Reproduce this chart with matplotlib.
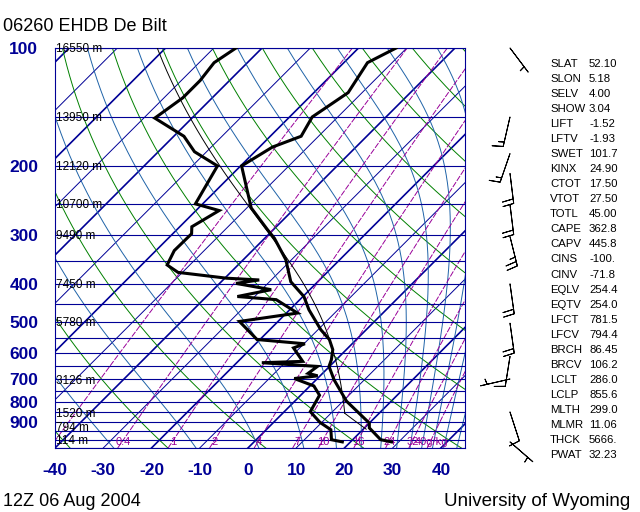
import numpy as np
import matplotlib
matplotlib.use('Agg')
import matplotlib.pyplot as plt
from matplotlib.ticker import NullLocator
from matplotlib.transforms import offset_copy

plt.rcParams['font.family'] = ['Liberation Sans', 'DejaVu Sans']
plt.rcParams['axes.unicode_minus'] = False

# ---- sounding (hPa, degC) ----
pres_t = [1013, 1000, 933, 907, 797, 703, 650, 625, 589, 555, 524, 466, 431, 395,
          347, 306, 291, 256, 200, 179, 168, 150, 130, 109, 100]
temp = [28.5, 25.8, 21.0, 20.0, 10.7, 3.7, -0.1, -1.0, -2.8, -5.6, -9.4, -16.0, -19.8, -25.6,
        -31.2, -38.0, -41.2, -49.1, -59.8, -57.3, -53.6, -55.3, -52.9, -55.1, -52.2]

pres_d = [1013, 1000, 943, 903, 848, 770, 729, 698, 687, 677, 650, 636, 631, 583, 569, 555,
          499, 475, 439, 431, 414, 399, 391, 387, 374, 358, 329, 298, 286, 260, 250, 200,
          184, 168, 151, 134, 121, 109, 100]
dwpt = [18.3, 15.6, 13.4, 9.6, 5.4, 3.9, 0.8, -4.8, -0.5, -3.0, -2.5, -14.8, -6.6, -11.3, -9.8, -20.6,
        -28.0, -17.7, -24.9, -33.6, -28.0, -36.6, -32.5, -39.6, -50.9, -54.7, -56.2, -56.1, -57.5,
        -55.2, -61.5, -64.8, -72.5, -77.9, -87.7, -86.1, -86.1, -86.9, -85.4]

# winds (hPa, deg, knots)
pres_w = [1013, 850, 700, 613, 504, 400, 303, 251, 209, 186, 150, 100]
wdir = [131, 162, 257, 189, 172, 172, 166, 173, 173, 199, 193, 143]
wspd = [5, 10, 5, 10, 20, 20, 25, 20, 20, 15, 15, 5]

# heights of the standard levels
hght_p = [100, 150, 200, 250, 300, 400, 500, 700, 850, 925, 1000]
hght_lbl = ['16550 m', '13950 m', '12120 m', '10700 m', '9490 m', '7450 m',
            '5780 m', '3126 m', '1520 m', '794 m', '114 m']

# parcel (mixed layer) values from the table
parcel_p0 = 940.0
mlth = 299.0
lclp = 855.6
lclt = 286.0

stat_names = ['SLAT', 'SLON', 'SELV', 'SHOW', 'LIFT', 'LFTV', 'SWET', 'KINX', 'CTOT',
              'VTOT', 'TOTL', 'CAPE', 'CAPV', 'CINS', 'CINV', 'EQLV', 'EQTV', 'LFCT',
              'LFCV', 'BRCH', 'BRCV', 'LCLT', 'LCLP', 'MLTH', 'MLMR', 'THCK', 'PWAT']
stat_vals = ['52.10', '5.18', '4.00', '3.04', '-1.52', '-1.93', '101.7', '24.90', '17.50',
             '27.50', '45.00', '362.8', '445.8', '-100.', '-71.8', '254.4', '254.0', '781.5',
             '794.4', '86.45', '106.2', '286.0', '855.6', '299.0', '11.06', '5666.', '32.23']

p_ticks = [100, 200, 300, 400, 500, 600, 700, 800, 900]
t_ticks = [-40, -30, -20, -10, 0, 10, 20, 30, 40]
isobars = list(range(100, 1051, 50))
isotherms = list(range(-140, 50, 10))
dry_theta = list(range(193, 554, 20))
moist_theta = list(range(203, 564, 20))
mix_ratio = [0.1, 0.4, 1, 2, 4, 7, 10, 16, 24, 32, 40]
mix_labels = ['', '0.4', '1', '2', '4', '7', '10', '16', '24', '32', '40g/kg']

navy = '#000096'
green = '#008000'
teal = '#1f63a8'
purple = '#990099'

PBOT, PTOP = 1050.0, 100.0
TLEFT, TRIGHT = -40.0, 45.0

fig = plt.figure(figsize=(6.4, 5.12), dpi=100)
W, H = 410, 400
ax = fig.add_axes([55/640, 64/512, W/640, H/512])
ax.set_yscale('log')
ax.set_ylim(PBOT, PTOP)
ax.set_xlim(TLEFT, TRIGHT)

# skew so that isotherms run at 45 degrees
K = (H / np.log10(PBOT / PTOP)) / (W / (TRIGHT - TLEFT))


def skx(T, p):
    return np.asarray(T, float) + K * np.log10(PBOT / np.asarray(p, float))


Rd, Cp, Lv, eps = 287.04, 1005.7, 2.501e6, 0.622


def sat_mix(T, p):
    es = 6.112 * np.exp(17.67 * (T - 273.15) / (T - 29.65))
    return eps * es / (p - es)


def moist_lapse(T, p):
    rs = sat_mix(T, p)
    return (Rd * T + Lv * rs) / (Cp + Lv * Lv * rs * eps / (Rd * T * T)) / p


def moist_path(T0, plev):
    T = np.array(T0, dtype=float)
    out = [T.copy()]
    for i in range(1, len(plev)):
        p = plev[i-1]
        dp = plev[i] - p
        k1 = moist_lapse(T, p)
        k2 = moist_lapse(T + 0.5*dp*k1, p + 0.5*dp)
        k3 = moist_lapse(T + 0.5*dp*k2, p + 0.5*dp)
        k4 = moist_lapse(T + dp*k3, p + dp)
        T = T + dp * (k1 + 2*k2 + 2*k3 + k4) / 6.0
        out.append(T.copy())
    return np.array(out)


pg = np.logspace(np.log10(PBOT), np.log10(PTOP), 200)

# isobars
for p in isobars:
    ax.axhline(p, color=navy, lw=0.8, zorder=2)

# isotherms
for t0 in isotherms:
    lw = 1.2 if t0 % 20 == 0 else 0.7
    ax.plot(skx([t0, t0], [PBOT, PTOP]), [PBOT, PTOP], color=navy, lw=lw, zorder=1)

# dry adiabats
for th in dry_theta:
    T = th * (pg / 1000.0) ** 0.2857 - 273.15
    ax.plot(skx(T, pg), pg, color=green, lw=0.7, zorder=1)

# moist adiabats, integrated down from the top
pdown = np.logspace(np.log10(PTOP), np.log10(PBOT), 300)
T_top = np.array(moist_theta, float) * (PTOP / 1000.0) ** 0.2857
Tm = moist_path(T_top, pdown) - 273.15
for j in range(Tm.shape[1]):
    ax.plot(skx(Tm[:, j], pdown), pdown, color=teal, lw=0.7, zorder=1)

# mixing ratio lines
mtrans = offset_copy(ax.transData, fig=fig, x=0, y=-2, units='dots')
for w, lbl in zip(mix_ratio, mix_labels):
    e = w * pg / (622.0 + w)
    lne = np.log(e / 6.112)
    Td = 243.5 * lne / (17.67 - lne)
    ax.plot(skx(Td, pg), pg, color=purple, lw=0.7, dashes=(6, 1.5), zorder=1)
    if lbl:
        e0 = w * 1000.0 / (622.0 + w)
        l0 = np.log(e0 / 6.112)
        x0 = skx(243.5 * l0 / (17.67 - l0), 1000.0)
        ax.text(x0, 1000.0, lbl, color=purple, fontsize=8, ha='center', va='center',
                transform=mtrans, zorder=3)

# parcel path
p_dry = np.linspace(parcel_p0, lclp, 20)
T_dry = mlth * (p_dry / 1000.0) ** 0.2857 - 273.15
p_up = np.logspace(np.log10(lclp), np.log10(PTOP), 300)
T_up = moist_path(lclt, p_up) - 273.15
ax.plot(skx(T_dry, p_dry), p_dry, color='k', lw=0.7, zorder=4)
ax.plot(skx(T_up, p_up), p_up, color='k', lw=0.7, zorder=4)

# sounding
ax.plot(skx(temp, pres_t), pres_t, color='k', lw=2.2, zorder=5, solid_joinstyle='miter')
ax.plot(skx(dwpt, pres_d), pres_d, color='k', lw=2.2, zorder=5, solid_joinstyle='miter')

# heights
htrans = offset_copy(ax.get_yaxis_transform(), fig=fig, x=1, y=-4.5, units='dots')
for p, s in zip(hght_p, hght_lbl):
    ax.text(0.0, p, s, fontsize=8.5, color='k', ha='left', va='baseline',
            transform=htrans, zorder=6)

# axes styling
ax.yaxis.set_minor_locator(NullLocator())
ax.set_yticks(p_ticks)
ax.set_yticklabels([str(p) for p in p_ticks])
ax.set_xticks(t_ticks)
ax.set_xticklabels([str(t) for t in t_ticks])
ax.tick_params(axis='both', length=0, labelsize=12.5, labelcolor=navy)
ax.tick_params(axis='y', pad=12)
ax.tick_params(axis='x', pad=11)
for lbl in ax.get_xticklabels() + ax.get_yticklabels():
    lbl.set_fontweight('bold')
for sp in ax.spines.values():
    sp.set_color(navy)
    sp.set_linewidth(0.8)

# wind barbs
axw = fig.add_axes([480/640, 64/512, 60/640, H/512])
axw.set_yscale('log')
axw.set_ylim(PBOT, PTOP)
axw.set_xlim(-1, 1)
axw.axis('off')
rad = np.deg2rad(wdir)
u = -np.array(wspd) * np.sin(rad)
v = -np.array(wspd) * np.cos(rad)
bb = axw.barbs(np.zeros(len(pres_w)), pres_w, u, v, length=6.6, pivot='tip', lw=0.7,
               color='k', sizes=dict(spacing=0.15, height=0.36, width=0.12))
bb.set_clip_on(False)

# texts
fig.text(3/640, 1 - 31/512, '06260 EHDB De Bilt', fontsize=13, va='baseline')
fig.text(3/640, 1 - 505.5/512, '12Z 06 Aug 2004', fontsize=13, va='baseline')
fig.text(630/640, 1 - 505.5/512, 'University of Wyoming', fontsize=13.5, ha='right', va='baseline')
for i, (n, s) in enumerate(zip(stat_names, stat_vals)):
    yb = 1 - (66.7 + 15.06 * i) / 512
    fig.text(550/640, yb, n, fontsize=8.2, va='baseline')
    fig.text(589/640, yb, s, fontsize=8.2, va='baseline')

fig.savefig('out.png', dpi=100)
